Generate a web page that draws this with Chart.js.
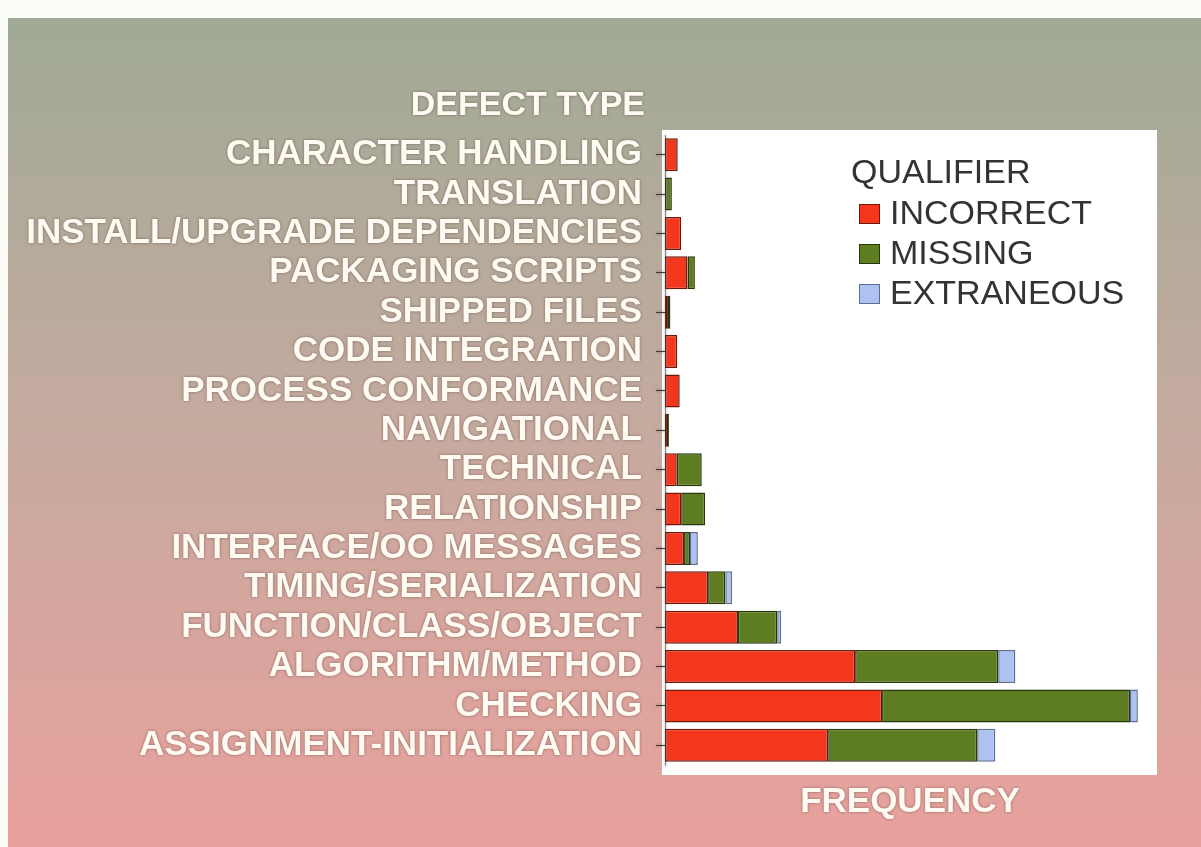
<!DOCTYPE html>
<html>
<head>
<meta charset="utf-8">
<script src="https://cdn.jsdelivr.net/npm/chart.js@4"></script>
<style>
  html, body { margin: 0; padding: 0; background: #fff; }
  canvas { display: block; }
</style>
</head>
<body>
<canvas id="chart" width="1201" height="847"></canvas>
<script>
// defect types, top to bottom
const defectTypes = [
  'CHARACTER HANDLING',
  'TRANSLATION',
  'INSTALL/UPGRADE DEPENDENCIES',
  'PACKAGING SCRIPTS',
  'SHIPPED FILES',
  'CODE INTEGRATION',
  'PROCESS CONFORMANCE',
  'NAVIGATIONAL',
  'TECHNICAL',
  'RELATIONSHIP',
  'INTERFACE/OO MESSAGES',
  'TIMING/SERIALIZATION',
  'FUNCTION/CLASS/OBJECT',
  'ALGORITHM/METHOD',
  'CHECKING',
  'ASSIGNMENT-INITIALIZATION'
];

// frequency per qualifier (no axis scale given)
const incorrect   = [2.6, 0,   3.3, 4.6, 0.6, 2.5, 3.0, 0.4, 2.4, 3.3, 3.9, 8.8, 14.9, 38.8, 44.3, 33.3];
const missing     = [0,   1.4, 0,   1.5, 0.5, 0,   0,   0.4, 5.1, 4.9, 1.2, 3.5, 8.0,  29.2, 50.6, 30.4];
const extraneous  = [0,   0,   0,   0,   0,   0,   0,   0,   0,   0,   1.6, 1.4, 0.8,  3.5,  1.6,  3.7];

const legendTitle = 'QUALIFIER';

const backdrop = {
  id: 'backdrop',
  beforeDraw(chart) {
    const { ctx, chartArea: a } = chart;
    ctx.save();
    ctx.fillStyle = '#fbfbf7';
    ctx.fillRect(0, 0, chart.width, chart.height);
    const g = ctx.createLinearGradient(0, 18, 0, 847);
    g.addColorStop(0, '#a0aa96');
    g.addColorStop(0.5, '#c6aa9f');
    g.addColorStop(1, '#e9a19d');
    ctx.fillStyle = g;
    ctx.fillRect(8, 18, chart.width - 8, chart.height - 18);
    // white plot panel
    ctx.fillStyle = '#ffffff';
    ctx.fillRect(a.left - 3, a.top - 5, a.right - a.left + 5, a.bottom - a.top + 15);
    ctx.restore();
    // soft dark halo for the white axis text
    ctx.shadowColor = 'rgba(70,50,40,0.55)';
    ctx.shadowBlur = 3;
  },
  beforeDatasetsDraw(chart) {
    chart.ctx.shadowColor = 'rgba(0,0,0,0)';
    chart.ctx.shadowBlur = 0;
  },
  afterDraw(chart) {
    const { ctx } = chart;
    ctx.save();
    ctx.shadowColor = 'rgba(70,50,40,0.55)';
    ctx.shadowBlur = 3;
    ctx.fillStyle = '#fffaf2';
    ctx.font = 'bold 34px "Liberation Sans", Arial, sans-serif';
    ctx.textAlign = 'right';
    ctx.textBaseline = 'middle';
    ctx.fillText('DEFECT TYPE', 645, 106);
    ctx.restore();

    // legend box inside the plot
    ctx.save();
    ctx.font = '34px "Liberation Sans", Arial, sans-serif';
    ctx.textBaseline = 'middle';
    ctx.textAlign = 'left';
    ctx.fillStyle = '#333333';
    ctx.fillText(legendTitle, 851, 174);
    chart.data.datasets.forEach((ds, i) => {
      const y = 214 + i * 40;
      ctx.fillStyle = ds.backgroundColor;
      ctx.fillRect(859, y - 10, 21, 20);
      ctx.strokeStyle = ds.borderColor;
      ctx.lineWidth = 1;
      ctx.strokeRect(859.5, y - 9.5, 20, 19);
      ctx.fillStyle = '#333333';
      ctx.fillText(ds.label, 890, y + 1);
    });
    ctx.restore();
  }
};

new Chart(document.getElementById('chart'), {
  type: 'bar',
  data: {
    labels: defectTypes,
    datasets: [
      { label: 'INCORRECT', data: incorrect, backgroundColor: '#f3361c', borderColor: '#6e180b' },
      { label: 'MISSING', data: missing, backgroundColor: '#5e7c20', borderColor: '#27360c' },
      { label: 'EXTRANEOUS', data: extraneous, backgroundColor: '#aec2f2', borderColor: '#5f6e90' }
    ]
  },
  options: {
    indexAxis: 'y',
    responsive: false,
    animation: false,
    layout: { padding: { left: 0, right: 46, top: 135, bottom: 0 } },
    datasets: {
      bar: { barPercentage: 0.84, categoryPercentage: 1, borderWidth: 1.5, borderSkipped: false }
    },
    scales: {
      x: {
        stacked: true,
        min: 0,
        max: 100,
        grid: { display: false },
        border: { display: false },
        ticks: { display: false },
        title: {
          display: true,
          text: 'FREQUENCY',
          color: '#fffaf2',
          font: { family: '"Liberation Sans", Arial, sans-serif', size: 35, weight: 'bold' },
          padding: { top: 0, bottom: 24 }
        },
        afterFit(scale) { scale.height = 82; }
      },
      y: {
        stacked: true,
        grid: {
          drawOnChartArea: false,
          drawTicks: true,
          tickLength: 9,
          offset: false,
          color: '#3a3a3a'
        },
        border: { display: true, color: '#8a8a8a', width: 1 },
        ticks: {
          autoSkip: false,
          padding: 14,
          color: '#fffaf2',
          font: { family: '"Liberation Sans", Arial, sans-serif', size: 35, weight: 'bold' }
        },
        afterFit(scale) { scale.width = 665; }
      }
    },
    plugins: {
      legend: { display: false },
      tooltip: { enabled: false }
    }
  },
  plugins: [backdrop]
});
</script>
</body>
</html>
